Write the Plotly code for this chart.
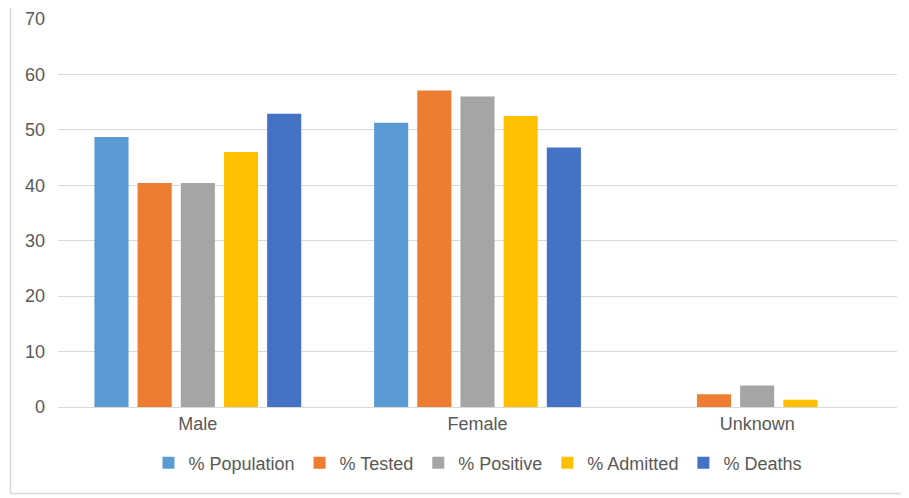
import plotly.graph_objects as go

categories = ["Male", "Female", "Unknown"]
series_names = ["% Population", "% Tested", "% Positive", "% Admitted", "% Deaths"]
population = [48.7, 51.3, None]
tested = [40.4, 57.1, 2.3]
positive = [40.4, 56.0, 3.9]
admitted = [46.0, 52.5, 1.3]
deaths = [52.9, 46.8, None]
colors = ["#5B9BD5", "#ED7D31", "#A5A5A5", "#FFC000", "#4472C4"]
y_ticks = [0, 10, 20, 30, 40, 50, 60, 70]

fig = go.Figure()
for name, vals, col in zip(series_names, [population, tested, positive, admitted, deaths], colors):
    fig.add_trace(go.Bar(x=categories, y=vals, name=name, marker=dict(color=col, line=dict(width=0))))

# page has an 8px body margin; figure is sized so the plot lands where the reference has it
W, H = 901, 490
l, r, t, b = 50, 12, 11, 91
pw, ph = W - l - r, H - t - b
bx, by = 2.5, 485.5  # left / bottom frame lines (figure px)

fig.update_layout(
    width=W, height=H,
    margin=dict(l=l, r=r, t=t, b=b, autoexpand=False),
    paper_bgcolor="white", plot_bgcolor="white",
    barmode="group", bargap=0.228, bargroupgap=0.21,
    font=dict(family="Liberation Sans, Arial, sans-serif", size=18, color="#595959"),
    showlegend=True,
    legend=dict(orientation="h", x=0.5, xanchor="center", y=-(455 - (H - b)) / ph, yanchor="middle",
                font=dict(size=18, color="#595959"), itemwidth=30, traceorder="normal"),
    xaxis=dict(showgrid=False, showline=True, linecolor="#d9d9d9", linewidth=1, automargin=False,
               ticks="", tickfont=dict(size=18, color="#595959")),
    yaxis=dict(range=[0, 70], tickvals=y_ticks, showgrid=True, gridcolor="#d9d9d9", automargin=False,
               gridwidth=1, zeroline=False, showline=False, ticks="",
               tickfont=dict(size=18, color="#595959"), ticklabelstandoff=12),
    shapes=[
        dict(type="line", xref="paper", yref="paper",
             x0=(bx - l) / pw, x1=(bx - l) / pw, y0=((H - b) - by) / ph, y1=(H - b) / ph + t / ph + 0.05,
             line=dict(color="#d9d9d9", width=1.5)),
        dict(type="line", xref="paper", yref="paper",
             x0=(bx - l) / pw, x1=(W - l) / pw, y0=((H - b) - by) / ph, y1=((H - b) - by) / ph,
             line=dict(color="#d9d9d9", width=1.5)),
    ],
)

fig.write_html("out.html")
